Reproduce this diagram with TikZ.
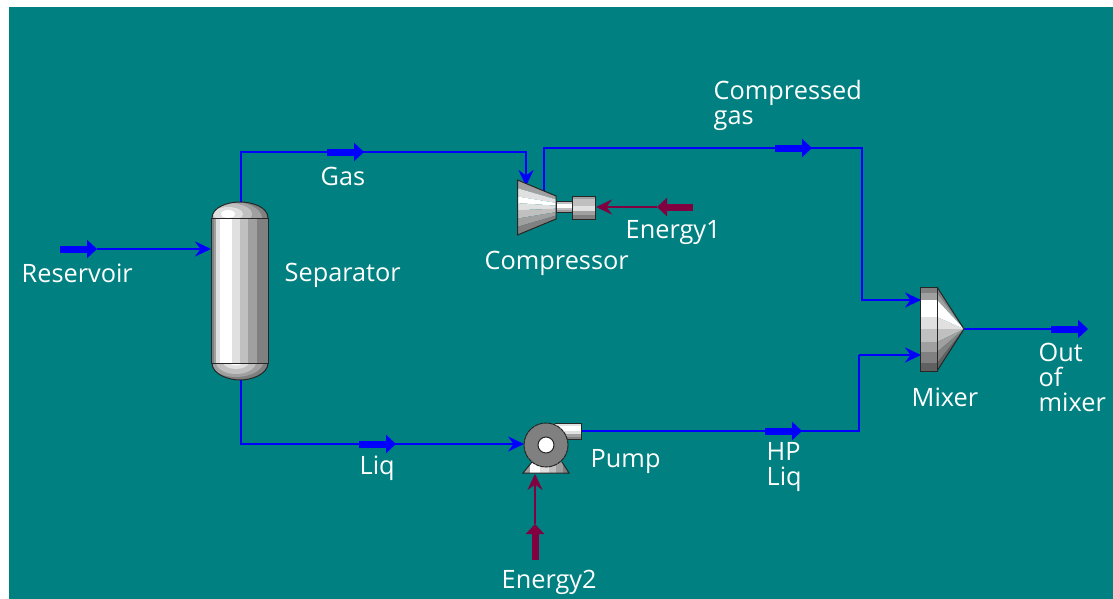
\documentclass[tikz,border=0pt]{standalone}
\usepackage{fontspec}
\setmainfont{Open Sans}
\usetikzlibrary{arrows.meta}
\definecolor{teal0}{HTML}{008080}
\definecolor{strm}{HTML}{0000FF}
\definecolor{enrg}{HTML}{800040}
\definecolor{gA}{HTML}{FFFFFF}
\definecolor{gB}{HTML}{E0E0E0}
\definecolor{gC}{HTML}{C0C0C0}
\definecolor{gD}{HTML}{A0A0A0}
\definecolor{gE}{HTML}{808080}
\definecolor{gF}{HTML}{606060}
\tikzset{
  lbl/.style={text=white,font=\fontsize{25.3}{25}\selectfont,inner sep=0pt,align=left},
  tipA/.style={-{Stealth[length=16pt,width=15pt,inset=5.5pt]}},
  stream/.style={draw=strm,line width=2.6pt,tipA},
  plainstream/.style={draw=strm,line width=2.6pt},
  energy/.style={draw=enrg,line width=2.6pt,tipA},
  markS/.style={draw=strm,line width=7pt,-{Triangle[length=10pt,width=18pt]}},
  markE/.style={draw=enrg,line width=7pt,-{Triangle[length=10pt,width=18pt]}},
  unitbox/.style={inner sep=0pt,minimum width=0pt},
  outl/.style={draw=black!85,line width=1pt}
}
\begin{document}
\begin{tikzpicture}[x=1pt,y=-1pt]
\useasboundingbox (0,0) rectangle (1113,599);
\fill[white] (0,0) rectangle (1113,599);
\fill[teal0] (9,7) rectangle (1113,599);

% named ports
\coordinate (resA) at (60,249); \coordinate (resB) at (97,249);
\coordinate (sepW) at (211,249);
\coordinate (sepN) at (241,202); \coordinate (sepS) at (241,380);
\coordinate (gasK) at (241,152); \coordinate (gasA) at (327,152); \coordinate (gasB) at (364,152);
\coordinate (gasL) at (526,152); \coordinate (cmpIn) at (526,186);
\coordinate (cmpOut) at (544,192); \coordinate (cgK) at (544,148);
\coordinate (cgA) at (775,148); \coordinate (cgB) at (812,148);
\coordinate (cgL) at (862,148); \coordinate (cgM) at (862,300); \coordinate (mixA) at (921,300);
\coordinate (liqK) at (241,444); \coordinate (liqA) at (359,444); \coordinate (liqB) at (396,444);
\coordinate (pmpIn) at (524,444);
\coordinate (pmpOut) at (581,431); \coordinate (hpA) at (765,431); \coordinate (hpB) at (802,431);
\coordinate (hpK) at (859,431); \coordinate (hpM) at (859,355); \coordinate (mixB) at (921,355);
\coordinate (mixO) at (964,329); \coordinate (outA) at (1051,329); \coordinate (outB) at (1088,329);
\coordinate (e1A) at (693,207); \coordinate (e1B) at (657,207); \coordinate (cmpE) at (596,207);
\coordinate (e2A) at (535,560); \coordinate (e2B) at (535,524); \coordinate (pmpE) at (535,474);

% streams
\draw[stream] (resB) -- (sepW);
\draw[markS] (resA) -- (resB);
\draw[stream] (sepN) -- (gasK) -- (gasL) -- (cmpIn);
\draw[markS] (gasA) -- (gasB);
\draw[plainstream] (cmpOut) -- (cgK) -- (cgL) -- (cgM) -- (mixA);
\draw[stream] (cgM) -- (mixA);
\draw[markS] (cgA) -- (cgB);
\draw[stream] (sepS) -- (liqK) -- (pmpIn);
\draw[markS] (liqA) -- (liqB);
\draw[plainstream] (pmpOut) -- (hpK) -- (hpM);
\draw[stream] (hpM) -- (mixB);
\draw[markS] (hpA) -- (hpB);
\draw[plainstream] (mixO) -- (outA);
\draw[markS] (outA) -- (outB);
\draw[energy] (e1B) -- (cmpE);
\draw[markE] (e1A) -- (e1B);
\draw[energy] (e2B) -- (pmpE);
\draw[markE] (e2A) -- (e2B);

% separator
\begin{scope}
\clip (212,218) .. controls (212,207) and (228,202) .. (240,202) .. controls (252,202) and (268,207) .. (268,218) -- cycle;
\fill[gD!80!black] (205,198) rectangle (275,220);
\fill[gD] (228,218) ellipse (34 and 17);
\fill[gC] (228,214) ellipse (24 and 11);
\fill[gB] (228,214) ellipse (15 and 7);
\fill[gA] (228,214) ellipse (7 and 4);
\end{scope}
\draw[outl] (212,218) .. controls (212,207) and (228,202) .. (240,202) .. controls (252,202) and (268,207) .. (268,218);
\begin{scope}
\clip (212,363) .. controls (212,374) and (228,380) .. (240,380) .. controls (252,380) and (268,374) .. (268,363) -- cycle;
\fill[gE] (205,360) rectangle (275,384);
\fill[gD] (236,360) ellipse (28 and 17);
\fill[gC] (236,362) ellipse (20 and 12);
\fill[gB] (236,362) ellipse (13 and 7);
\fill[gA] (236,362) ellipse (7 and 3.5);
\end{scope}
\draw[outl] (212,363) .. controls (212,374) and (228,380) .. (240,380) .. controls (252,380) and (268,374) .. (268,363);
\foreach \a/\b/\c in {211/214/gE,214/216/gD,216/220/gB,220/232/gA,232/240/gB,240/248/gC,248/257/gD,257/268/gE}
  \fill[\c] (\a,218) rectangle (\b,363);
\draw[outl] (211,218) rectangle (268,363);
\node[unitbox,minimum width=57pt,minimum height=178pt] (separator) at (239.5,291) {};

% compressor
\foreach \a/\b/\c in {0/0.15/gD,0.15/0.3/gB,0.3/0.42/gA,0.42/0.55/gB,0.55/0.7/gC,0.7/0.85/gD,0.85/1/gE}
  \fill[\c] (517.5,{180+55*\a}) -- (556,{196+23*\a}) -- (556,{196+23*\b}) -- (517.5,{180+55*\b}) -- cycle;
\draw[outl] (517.5,180) -- (556,196) -- (556,219) -- (517.5,235) -- cycle;
\foreach \a/\b/\c in {201.5/204/gC,204/208/gA,208/210/gC,210/212.5/gD}
  \fill[\c] (556,\a) rectangle (572.5,\b);
\draw[outl] (556,201.5) rectangle (572.5,212.5);
\foreach \a/\b/\c in {196/199/gD,199/206/gC,206/211/gB,211/215/gD,215/219/gE}
  \fill[\c] (572.5,\a) rectangle (595.5,\b);
\draw[outl] (572.5,196) rectangle (595.5,219);
\node[unitbox,minimum width=78pt,minimum height=55pt] (compressor) at (556.5,207.5) {};

% pump
\begin{scope}
\clip (555,423) rectangle (581,439);
\foreach \a/\b/\c in {423/426/gB,426/431/gA,431/434/gB,434/437/gD,437/439/gE}
  \fill[\c] (555,\a) rectangle (581,\b);
\end{scope}
\draw[outl] (555,423) -- (581,423) -- (581,439) -- (555,439);
\begin{scope}
\clip (532,462) -- (562,462) -- (569,473) -- (523,473) -- cycle;
\foreach \a/\b/\c in {523/530/gD,530/540/gA,540/549/gB,549/556/gC,556/563/gD,563/569/gE}
  \fill[\c] (\a,460) rectangle (\b,474);
\end{scope}
\draw[outl] (532,462) -- (523,473) -- (569,473) -- (562,462);
\fill[gE] (546,445) circle (22);
\draw[outl,dash pattern=on 4pt off 0.6pt] (546,445) circle (22);
\fill[gA] (546,445) circle (8);
\draw[outl] (546,445) circle (8);
\node[unitbox,minimum width=58pt,minimum height=51pt] (pump) at (552,448) {};

% mixer
\foreach \a/\b/\c in {287/293/gE,293/300/gD,300/317/gA,317/329/gB,329/342/gC,342/352/gD,352/363/gE,363/371/gF}
  \fill[\c] (964,329) -- (937,\a) -- (937,\b) -- cycle;
\draw[outl] (937,287) -- (964,329) -- (937,371);
\foreach \a/\b/\c in {287/293/gE,293/300/gD,300/317/gA,317/329/gB,329/342/gC,342/352/gD,352/363/gE,363/371/gF}
  \fill[\c] (920.5,\a) rectangle (937.5,\b);
\draw[outl] (920.5,287) rectangle (937.5,371);
\node[unitbox,minimum width=44pt,minimum height=84pt] (mixer) at (942,329) {};

% labels
\node[lbl,anchor=west] (lReservoir) at (21.5,273) {Reservoir};
\node[lbl,anchor=west] (lSeparator) at (284.5,275) {Separator};
\node[lbl,anchor=west] (lGas) at (320.5,176) {Gas};
\node[lbl,anchor=west] (lCompressor) at (484.5,263) {Compressor};
\node[lbl,anchor=west] (lEnergy1) at (625.5,233) {Energy1};
\node[lbl,anchor=west] (lCgas) at (713.5,105) {Compressed\\gas};
\node[lbl,anchor=west] (lPump) at (590.5,462) {Pump};
\node[lbl,anchor=west] (lLiq) at (359.5,468) {Liq};
\node[lbl,anchor=west] (lHP) at (766.5,467) {HP\\Liq};
\node[lbl,anchor=west] (lEnergy2) at (501.5,582) {Energy2};
\node[lbl,anchor=west] (lMixer) at (911.5,397) {Mixer};
\node[lbl,anchor=west] (lOut) at (1038.5,377) {Out\\of\\mixer};
\end{tikzpicture}
\end{document}
